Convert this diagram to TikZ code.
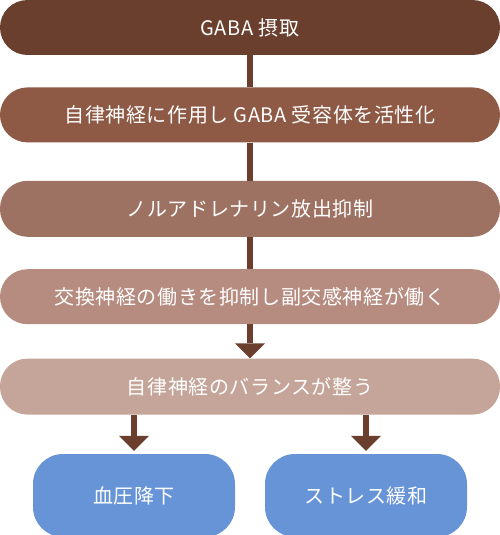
\documentclass[tikz,border=0pt]{standalone}
\usepackage{fontspec}
\setmainfont[LetterSpace=3]{Noto Sans CJK JP}
\usetikzlibrary{shapes,arrows.meta,positioning}
\definecolor{step1}{HTML}{6A3F2E}
\definecolor{step2}{HTML}{8E5A45}
\definecolor{step3}{HTML}{9E7262}
\definecolor{step4}{HTML}{B78C80}
\definecolor{step5}{HTML}{C5A599}
\definecolor{effect}{HTML}{6694D6}
\tikzset{block/.style = {rectangle, text = white, minimum width = 500pt, minimum height = 55pt,
                         rounded corners = 27.5pt, inner sep = 0pt, font = \fontsize{20}{20}\selectfont},
         result/.style = {block, fill = effect, minimum width = 202pt, minimum height = 83pt,
                          rounded corners = 30pt},
         link/.style = {draw = step1, line width = 6pt},
         flow/.style = {link, -{Triangle[width = 30pt, length = 15pt, line width = 0pt]}},
}
\begin{document}
\begin{tikzpicture}[auto, node distance = 32pt]

  \useasboundingbox (0,0) rectangle (500pt,-535pt);

  \node[block, fill = step1] (gaba) at (250pt,-27.5pt) {GABA 摂取};
  \node[block, fill = step2, below = of gaba] (receptor) {自律神経に作用し GABA 受容体を活性化};
  \node[block, fill = step3, below = 38pt of receptor, minimum height = 56pt] (noradr) {ノルアドレナリン放出抑制};
  \node[block, fill = step4, below = of noradr] (parasym) {交換神経の働きを抑制し副交感神経が働く};
  \node[block, fill = step5, below = 34pt of parasym, minimum height = 56pt] (balance) {自律神経のバランスが整う};
  \node[result, below = 39pt of balance, xshift = -116pt] (pressure) {血圧降下};
  \node[result, below = 39pt of balance, xshift = 116pt] (stress) {ストレス緩和};

  \draw[link] (gaba) -- (receptor);
  \draw[link] (receptor) -- (noradr);
  \draw[link] (noradr) -- (parasym);
  \draw[flow] (parasym) -- (balance);
  \draw[flow, shorten > = 3pt] (balance.south -| pressure) -- (pressure);
  \draw[flow, shorten > = 3pt] (balance.south -| stress) -- (stress);

\end{tikzpicture}
\end{document}
